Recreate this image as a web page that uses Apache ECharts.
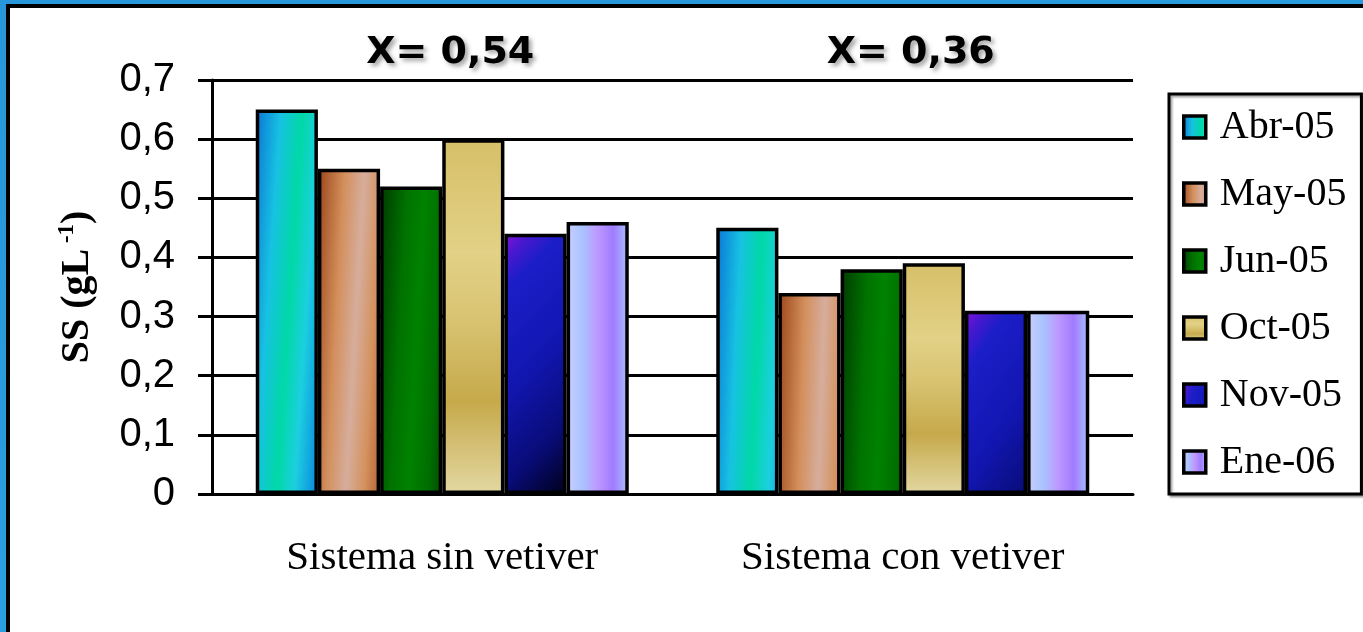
<!DOCTYPE html>
<html>
<head>
<meta charset="utf-8">
<script src="https://cdn.jsdelivr.net/npm/echarts@6/dist/echarts.min.js"></script>
<style>
  html, body { margin: 0; padding: 0; overflow: hidden; }
  #frame { position: absolute; left: 0; top: 0; width: 1363px; height: 632px; overflow: hidden;
           background: linear-gradient(160deg, #2797da 0%, #2a9fe0 60%, #3aaef0 100%); }
  #panel { position: absolute; left: 6px; top: 4px; width: 1400px; height: 700px;
           background: #fff; border: 4px solid #000; box-sizing: border-box; }
  #chart { position: absolute; left: 0; top: 0; width: 1363px; height: 632px; }
</style>
</head>
<body>
<div id="frame"><div id="panel"></div></div>
<div id="chart"></div>
<script>
// Suspended solids (SS, g/L) per sampling month, for both treatment systems
const categories = ['Sistema sin vetiver', 'Sistema con vetiver'];
const months = ['Abr-05', 'May-05', 'Jun-05', 'Oct-05', 'Nov-05', 'Ene-06'];
const abr05 = [0.65, 0.45];
const may05 = [0.55, 0.34];
const jun05 = [0.52, 0.38];
const oct05 = [0.60, 0.39];
const nov05 = [0.44, 0.31];
const ene06 = [0.46, 0.31];
const yTickLabels = ['0', '0,1', '0,2', '0,3', '0,4', '0,5', '0,6', '0,7'];

const seriesValues = [abr05, may05, jun05, oct05, nov05, ene06];

function lg(x2, y2, stops) {
  return new echarts.graphic.LinearGradient(0, 0, x2, y2,
    stops.map(s => ({ offset: s[0], color: s[1] })));
}

// Glossy fills, one per month
const fills = [
  lg(1.44, 0.016, [[0, '#0a74d6'], [0.28, '#17c2e2'], [0.52, '#00d9a6'], [0.72, '#1ccfe0'], [1, '#0a80de']]),
  lg(1.44, 0.016, [[0, '#9a4418'], [0.3, '#d38f5c'], [0.52, '#d6ad9c'], [0.72, '#d4925e'], [1, '#a24c1c']]),
  lg(1.44, 0.016, [[0, '#003a00'], [0.3, '#007200'], [0.5, '#008200'], [0.72, '#006e00'], [1, '#002e00']]),
  lg(0, 1, [[0, '#d6bf68'], [0.32, '#e2d186'], [0.5, '#d9c473'], [0.74, '#c6a94b'], [1, '#e3d8a2']]),
  lg(2.6, 0.6, [[0, '#8a10d8'], [0.08, '#4a18d0'], [0.18, '#1c1ec8'], [0.5, '#1216b0'], [0.78, '#080c78'], [1, '#00001a']]),
  lg(1, 0, [[0, '#cacdff'], [0.25, '#aac4ff'], [0.5, '#bd98ff'], [0.75, '#a07bff'], [1, '#a8c6ff']])
];

const chart = echarts.init(document.getElementById('chart'), null, { renderer: 'canvas' });

const option = {
  backgroundColor: 'transparent',
  animation: false,
  grid: { left: 212, right: 230, top: 80, bottom: 138, containLabel: false },
  legend: {
    orient: 'vertical',
    left: 1169,
    top: 94,
    padding: [13, 15, 12, 13],
    itemWidth: 22,
    itemHeight: 22,
    itemGap: 27,
    icon: 'rect',
    backgroundColor: '#fff',
    borderColor: '#000',
    borderWidth: 3,
    shadowColor: 'rgba(0,0,0,0.35)',
    shadowBlur: 2,
    shadowOffsetX: 2,
    shadowOffsetY: 2,
    itemStyle: { borderColor: '#000', borderWidth: 3.5 },
    textStyle: { fontFamily: 'Liberation Serif', fontSize: 40, lineHeight: 40, color: '#000', padding: [0, 0, 0, 9] },
    data: months
  },
  xAxis: {
    type: 'category',
    data: categories,
    axisLine: { lineStyle: { color: '#000', width: 3 } },
    axisTick: { length: 14, lineStyle: { color: '#000', width: 3 } },
    axisLabel: { fontFamily: 'Liberation Serif', fontSize: 41, color: '#000', margin: 44 }
  },
  yAxis: {
    type: 'value',
    min: 0,
    max: 0.7,
    interval: 0.1,
    name: '{a|SS (gL}{s| -1}{a|)}',
    nameLocation: 'middle',
    nameGap: 112,
    nameRotate: 90,
    nameTextStyle: {
      rich: {
        a: { fontFamily: 'Liberation Serif', fontWeight: 'bold', fontSize: 40, color: '#000', lineHeight: 44 },
        s: { fontFamily: 'Liberation Serif', fontWeight: 'bold', fontSize: 23, color: '#000', verticalAlign: 'top', lineHeight: 44 }
      }
    },
    axisLine: { show: true, lineStyle: { color: '#000', width: 3 } },
    axisTick: { show: true, length: 14, lineStyle: { color: '#000', width: 3 } },
    splitLine: { show: true, lineStyle: { color: '#000', width: 3 } },
    axisLabel: {
      fontFamily: 'Liberation Sans', fontSize: 40, color: '#000', margin: 37,
      formatter: v => yTickLabels[Math.round(v * 10)]
    }
  },
  series: months.map((m, i) => ({
    name: m,
    type: 'bar',
    data: seriesValues[i],
    barGap: '0%',
    barCategoryGap: '19%',
    itemStyle: { color: fills[i], borderColor: '#000', borderWidth: 3.5 }
  }))
};

chart.setOption(option);

// Group means written above each category
function fmtMean(v) {
  return v.toFixed(2).replace('.', ',');
}
const means = categories.map((c, ci) => {
  let s = 0;
  seriesValues.forEach(v => { s += v[ci]; });
  return s / seriesValues.length;
});

chart.setOption({
  graphic: means.map((m, ci) => {
    const px = chart.convertToPixel({ xAxisIndex: 0 }, categories[ci]);
    return {
      type: 'text',
      x: px + 8,
      y: 53,
      z: 100,
      style: {
        text: 'X= ' + fmtMean(m),
        font: 'bold 38px "DejaVu Sans"',
        fill: '#000',
        textAlign: 'center',
        textVerticalAlign: 'middle',
        textShadowColor: 'rgba(0,0,0,0.35)',
        textShadowBlur: 4,
        textShadowOffsetX: 3,
        textShadowOffsetY: 3
      }
    };
  })
});
</script>
</body>
</html>
